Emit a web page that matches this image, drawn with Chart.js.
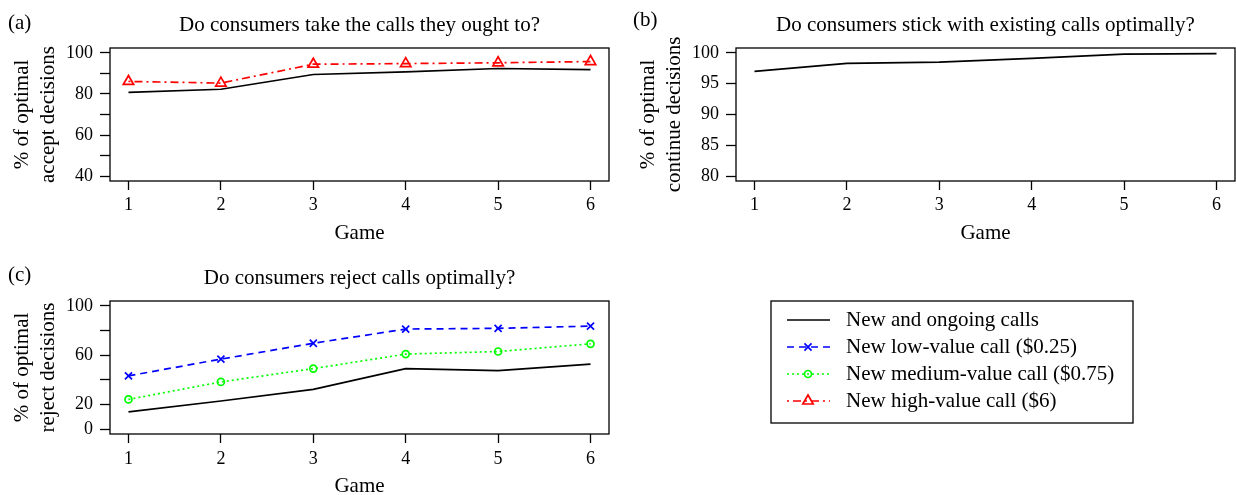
<!DOCTYPE html>
<html lang="en">
<head>
<meta charset="UTF-8">
<title>Optimal decisions by game</title>
<script src="https://cdn.jsdelivr.net/npm/chart.js"></script>
<style>
  html, body { margin: 0; padding: 0; background: #fff; overflow: hidden; }
  #wrap { position: relative; width: 1236px; height: 495px; }
  .panel { position: absolute; }
</style>
</head>
<body>
<div id="wrap">
  <div class="panel" style="left:0;top:0;width:618px;height:250px"><canvas id="chartA"></canvas></div>
  <div class="panel" style="left:618px;top:0;width:618px;height:250px"><canvas id="chartB"></canvas></div>
  <div class="panel" style="left:0;top:250px;width:1236px;height:245px"><canvas id="chartC"></canvas></div>
</div>
<script>
// data
const games = [1, 2, 3, 4, 5, 6];
const acceptAll = [80.8, 82.3, 89.5, 90.8, 92.4, 91.9];
const acceptHigh = [86.1, 85.3, 94.5, 94.8, 95.2, 95.8];
const continueAll = [97.0, 98.3, 98.5, 99.1, 99.8, 99.9];
const rejectAll = [13.9, 22.8, 32.2, 49.1, 47.5, 52.8];
const rejectLow = [43.2, 56.8, 69.7, 81.2, 81.8, 83.6];
const rejectMedium = [24.1, 38.3, 49.1, 60.9, 63.0, 69.2];

const yTicksA = [40, 50, 60, 70, 80, 90, 100];
const yLabelsA = [40, 60, 80, 100];
const yTicksB = [80, 85, 90, 95, 100];
const yLabelsB = [80, 85, 90, 95, 100];
const yTicksC = [0, 20, 40, 60, 80, 100];
const yLabelsC = [0, 20, 60, 100];

const SERIF = '"Liberation Serif", "DejaVu Serif", serif';

// line styles for each series (shared with the legend)
const styleAll = { label: 'New and ongoing calls', color: '#000000', dash: [], point: false, radius: 0 };
const styleLow = { label: 'New low-value call ($0.25)', color: '#0000ff', dash: [7, 5], point: 'crossRot', radius: 5 };
const styleMed = { label: 'New medium-value call ($0.75)', color: '#00ff00', dash: [2, 3], point: 'circle', radius: 3.5 };
const styleHigh = { label: 'New high-value call ($6)', color: '#ff0000', dash: [2, 4, 8, 4], point: 'triangle', radius: 6 };
const legendStyles = [styleAll, styleLow, styleMed, styleHigh];

function makeDataset(values, s) {
  return {
    label: s.label,
    data: games.map((g, i) => ({ x: g, y: values[i] })),
    borderColor: s.color,
    borderWidth: 1.7,
    borderDash: s.dash,
    tension: 0,
    pointStyle: s.point,
    pointRadius: s.radius,
    pointBorderColor: s.color,
    pointBackgroundColor: 'rgba(0,0,0,0)',
    pointBorderWidth: 1.7
  };
}

// box around the plot, panel letter and title
const panelText = {
  id: 'panelText',
  afterDraw(chart, args, opts) {
    const { ctx, chartArea } = chart;
    ctx.save();
    ctx.strokeStyle = '#000';
    ctx.lineWidth = 1.3;
    ctx.strokeRect(chartArea.left, chartArea.top, chartArea.right - chartArea.left, chartArea.bottom - chartArea.top);
    ctx.fillStyle = '#000';
    ctx.font = '21px ' + SERIF;
    ctx.textBaseline = 'middle';
    ctx.textAlign = 'left';
    ctx.fillText(opts.letter, opts.letterX, opts.letterY);
    ctx.textAlign = 'center';
    ctx.fillText(opts.title, (chartArea.left + chartArea.right) / 2, opts.titleY);
    ctx.restore();
  }
};

// shared legend, drawn in the bottom panel
const sideLegend = {
  id: 'sideLegend',
  afterDraw(chart, args, opts) {
    if (!opts.show) return;
    const ctx = chart.ctx;
    ctx.save();
    ctx.strokeStyle = '#000';
    ctx.lineWidth = 1.3;
    ctx.strokeRect(opts.x, opts.y, opts.w, opts.h);
    ctx.font = '21px ' + SERIF;
    ctx.textBaseline = 'middle';
    ctx.textAlign = 'left';
    legendStyles.forEach((s, i) => {
      const yy = opts.y + 19 + i * 27;
      ctx.strokeStyle = s.color;
      ctx.lineWidth = 1.7;
      ctx.setLineDash(s.dash);
      ctx.beginPath();
      ctx.moveTo(opts.x + 16, yy);
      ctx.lineTo(opts.x + 59, yy);
      ctx.stroke();
      ctx.setLineDash([]);
      if (s.point) {
        ctx.fillStyle = 'rgba(0,0,0,0)';
        Chart.helpers.drawPoint(ctx, { pointStyle: s.point, radius: s.radius, borderWidth: 1.7, rotation: 0 }, opts.x + 37, yy);
      }
      ctx.fillStyle = '#000';
      ctx.fillText(s.label, opts.x + 75, yy);
    });
    ctx.restore();
  }
};

function makeChart(id, datasets, cfg) {
  return new Chart(document.getElementById(id), {
    type: 'line',
    data: { datasets: datasets },
    options: {
      responsive: true,
      maintainAspectRatio: false,
      animation: false,
      events: [],
      layout: { padding: cfg.padding },
      plugins: {
        legend: { display: false },
        tooltip: { enabled: false },
        panelText: cfg.text,
        sideLegend: cfg.legend || { show: false }
      },
      scales: {
        x: {
          type: 'linear',
          min: 0.8,
          max: 6.2,
          afterBuildTicks: (axis) => { axis.ticks = games.map(v => ({ value: v })); },
          afterFit: (axis) => { axis.height = cfg.xHeight; },
          border: { display: false },
          grid: { drawOnChartArea: false, drawTicks: true, tickLength: 9, tickColor: '#000', tickWidth: 1.3 },
          ticks: { color: '#000', font: { family: SERIF, size: 18 }, padding: cfg.xPad, autoSkip: false, maxRotation: 0 },
          title: { display: true, text: 'Game', color: '#000', font: { family: SERIF, size: 21, lineHeight: 0.8 }, padding: { top: 0, bottom: cfg.xTitlePad } }
        },
        y: {
          min: cfg.yMin,
          max: cfg.yMax,
          afterBuildTicks: (axis) => { axis.ticks = cfg.yTicks.map(v => ({ value: v })); },
          afterFit: (axis) => { axis.width = cfg.yWidth; },
          border: { display: false },
          grid: { drawOnChartArea: false, drawTicks: true, tickLength: 10, tickColor: '#000', tickWidth: 1.3 },
          ticks: {
            color: '#000',
            font: { family: SERIF, size: 18 },
            padding: 7,
            autoSkip: false,
            callback: (v) => cfg.yLabels.includes(v) ? String(v) : ''
          },
          title: { display: true, text: cfg.yTitle, color: '#000', font: { family: SERIF, size: 21, lineHeight: 1.25 }, padding: { top: cfg.yTitlePad, bottom: 0 } }
        }
      }
    },
    plugins: [panelText, sideLegend]
  });
}

makeChart('chartA', [makeDataset(acceptAll, styleAll), makeDataset(acceptHigh, styleHigh)], {
  padding: { left: 0, top: 48, right: 9, bottom: 0 },
  xHeight: 69, xPad: 4, xTitlePad: 8.6,
  yMin: 37.6, yMax: 102.4, yTicks: yTicksA, yLabels: yLabelsA, yWidth: 110, yTitlePad: 9,
  yTitle: ['% of optimal', 'accept decisions'],
  text: { letter: '(a)', letterX: 8, letterY: 23, title: 'Do consumers take the calls they ought to?', titleY: 25 }
});

makeChart('chartB', [makeDataset(continueAll, styleAll)], {
  padding: { left: 0, top: 48, right: 1, bottom: 0 },
  xHeight: 69, xPad: 4, xTitlePad: 8.6,
  yMin: 79.2, yMax: 100.8, yTicks: yTicksB, yLabels: yLabelsB, yWidth: 118, yTitlePad: 17,
  yTitle: ['% of optimal', 'continue decisions'],
  text: { letter: '(b)', letterX: 15, letterY: 20, title: 'Do consumers stick with existing calls optimally?', titleY: 25 }
});

makeChart('chartC', [makeDataset(rejectAll, styleAll), makeDataset(rejectLow, styleLow), makeDataset(rejectMedium, styleMed)], {
  padding: { left: 0, top: 51, right: 627, bottom: 0 },
  xHeight: 61, xPad: 5, xTitlePad: 0,
  yMin: -4, yMax: 104, yTicks: yTicksC, yLabels: yLabelsC, yWidth: 110, yTitlePad: 9,
  yTitle: ['% of optimal', 'reject decisions'],
  text: { letter: '(c)', letterX: 8, letterY: 25, title: 'Do consumers reject calls optimally?', titleY: 28 },
  legend: { show: true, x: 771, y: 51, w: 362, h: 122 }
});
</script>
</body>
</html>
